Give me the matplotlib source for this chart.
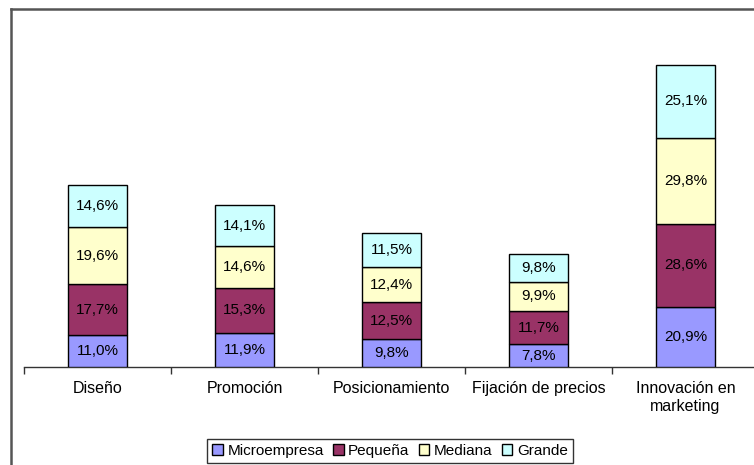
import matplotlib
matplotlib.use("Agg")
import matplotlib.pyplot as plt
from matplotlib.lines import Line2D
from matplotlib.patches import Patch
import numpy as np

plt.rcParams['font.family'] = ['Liberation Sans', 'DejaVu Sans']

categories = ["Diseño", "Promoción", "Posicionamiento", "Fijación de precios", "Innovación en\nmarketing"]
series_names = ["Microempresa", "Pequeña", "Mediana", "Grande"]
microempresa = [11.0, 11.9, 9.8, 7.8, 20.9]
pequena = [17.7, 15.3, 12.5, 11.7, 28.6]
mediana = [19.6, 14.6, 12.4, 9.9, 29.8]
grande = [14.6, 14.1, 11.5, 9.8, 25.1]
colors = ["#9999FF", "#993366", "#FFFFCC", "#CCFFFF"]

W, H = 754, 465
fig = plt.figure(figsize=(W / 100, H / 100), dpi=100)

# plot area in pixel terms: x from 24 to 759, baseline at y=367
left, right = 24, 759
base_y = 367
ymax = 110
px_per_unit = 302 / 104.4
top_y = base_y - ymax * px_per_unit
ax = fig.add_axes([left / W, (H - base_y) / H, (right - left) / W, (base_y - top_y) / H])

x = np.arange(len(categories))
bottom = np.zeros(len(categories))
for name, vals, col in zip(series_names, [microempresa, pequena, mediana, grande], colors):
    vals = np.array(vals)
    ax.bar(x, vals, width=0.4, bottom=bottom, color=col, edgecolor="black", linewidth=1.0, label=name, zorder=3)
    for xi, b, v in zip(x, bottom, vals):
        ax.text(xi, b + v / 2, f"{v:.1f}%".replace(".", ","), ha="center", va="center",
                fontsize=11, color="black", zorder=4)
    bottom += vals

ax.set_xlim(-0.5, len(categories) - 0.5)
ax.set_ylim(0, ymax)
for s in ["top", "right", "left"]:
    ax.spines[s].set_visible(False)
ax.spines["bottom"].set_color("#333333")
ax.spines["bottom"].set_linewidth(1.0)
ax.set_yticks([])
ax.set_xticks(np.arange(len(categories) + 1) - 0.5, minor=True)
ax.set_xticks(x)
ax.set_xticklabels(categories, fontsize=11.5, linespacing=1.3)
ax.tick_params(axis="x", which="major", length=0, pad=10)
ax.tick_params(axis="x", which="minor", length=5, width=1, color="#333333", direction="out")

handles = [Patch(facecolor=c, edgecolor="black", label=n) for n, c in zip(series_names, colors)]
leg = fig.legend(handles=handles, loc="center", bbox_to_anchor=(390 / W, 1 - 451 / H), ncol=4,
                 fontsize=11, frameon=True, fancybox=False, shadow=False,
                 handlelength=0.7, handleheight=0.7, handletextpad=0.3, columnspacing=0.6,
                 borderpad=0.3, edgecolor="black")
leg.get_frame().set_linewidth(1.0)

# outer border on the left and top edges
fig.add_artist(Line2D([10.5 / W, 10.5 / W], [0, 1 - 9 / H], transform=fig.transFigure, color="#555555", linewidth=1.8))
fig.add_artist(Line2D([10.5 / W, 1], [1 - 9 / H, 1 - 9 / H], transform=fig.transFigure, color="#555555", linewidth=1.8))

fig.savefig("out.png", dpi=100)
